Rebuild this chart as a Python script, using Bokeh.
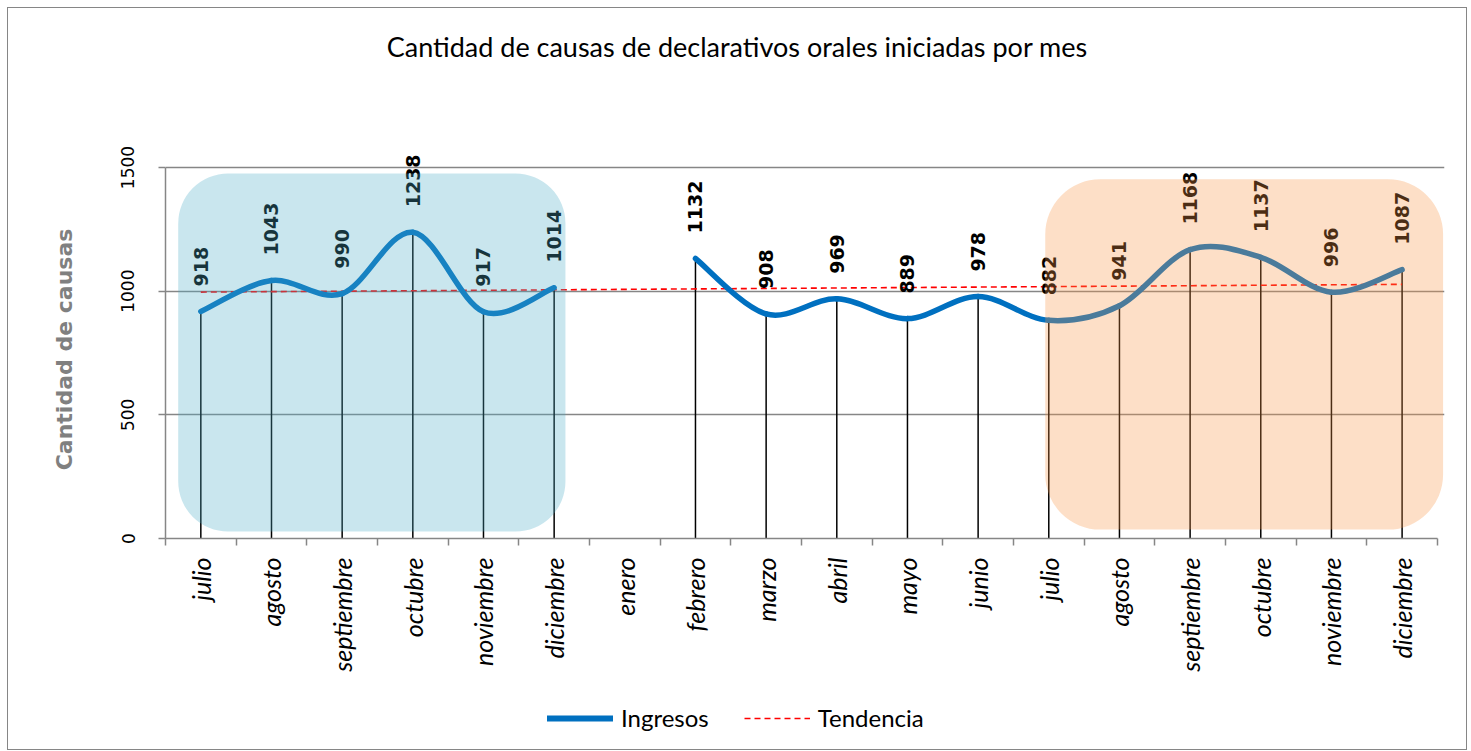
import numpy as np
from bokeh.plotting import figure
from bokeh.layouts import column
from bokeh.models import (FixedTicker, BoxAnnotation, Legend, LegendItem, Div,
                          ColumnDataSource, Range1d)
from bokeh.core.properties import value
from bokeh.embed import file_html
from bokeh.resources import INLINE

# ---------------- data ----------------
months = ["julio", "agosto", "septiembre", "octubre", "noviembre", "diciembre",
          "enero", "febrero", "marzo", "abril", "mayo", "junio",
          "julio", "agosto", "septiembre", "octubre", "noviembre", "diciembre"]
ingresos = [918, 1043, 990, 1238, 917, 1014, None, 1132, 908, 969, 889, 978,
            882, 941, 1168, 1137, 996, 1087]
y_ticks = [0, 500, 1000, 1500]
title_text = "Cantidad de causas de declarativos orales iniciadas por mes"
y_title = "Cantidad de causas"
series_names = ["Ingresos", "Tendencia"]

# ---------------- derived ----------------
idx = list(range(len(months)))
pts = [(i, v) for i, v in zip(idx, ingresos) if v is not None]
px = np.array([p[0] for p in pts], dtype=float)
py = np.array([p[1] for p in pts], dtype=float)

# linear trend (as Excel's linear trendline)
slope, intercept = np.polyfit(px, py, 1)
tx = [px.min(), px.max()]
ty = [intercept + slope * t for t in tx]

# smoothed line segments (Catmull-Rom style bezier, like Excel smoothing)
runs, cur = [], []
for i, v in zip(idx, ingresos):
    if v is None:
        if cur:
            runs.append(cur)
        cur = []
    else:
        cur.append((i, v))
if cur:
    runs.append(cur)
bz = dict(x0=[], y0=[], x1=[], y1=[], cx0=[], cy0=[], cx1=[], cy1=[])
for run in runs:
    n = len(run)
    for k in range(n - 1):
        p0 = run[max(k - 1, 0)]
        p1 = run[k]
        p2 = run[k + 1]
        p3 = run[min(k + 2, n - 1)]
        bz["x0"].append(p1[0]); bz["y0"].append(p1[1])
        bz["x1"].append(p2[0]); bz["y1"].append(p2[1])
        bz["cx0"].append(p1[0] + (p2[0] - p0[0]) / 6.0)
        bz["cy0"].append(p1[1] + (p2[1] - p0[1]) / 6.0)
        bz["cx1"].append(p2[0] - (p3[0] - p1[0]) / 6.0)
        bz["cy1"].append(p2[1] - (p3[1] - p1[1]) / 6.0)

pt_src = ColumnDataSource(dict(x=list(px), y=list(py), zero=[0] * len(px),
                               lab=[str(int(v)) for v in py]))

# ---------------- layout constants ----------------
W = 1458
TITLE_H = 62
MAIN_H = 620
LEG_H = 59
GRAY = "#868686"
X_LO, X_HI = -0.5, len(months) - 0.5
TREND_DASH = "6 4"

# ---------------- title (centered over whole chart) ----------------
title_div = Div(text=title_text, width=W, height=TITLE_H, margin=0,
                styles={"font-family": "Lato", "font-size": "27px", "color": "black",
                        "text-align": "center", "line-height": "78px"})

# ---------------- main figure ----------------
p = figure(width=W, height=MAIN_H, x_range=Range1d(X_LO, X_HI + 0.1),
           y_range=Range1d(0, 1621.3),
           output_backend="svg", toolbar_location=None, margin=0,
           min_border_left=157, min_border_right=22, min_border_top=67, min_border_bottom=152)
p.outline_line_color = None
p.background_fill_color = "white"
p.border_fill_color = "white"
p.xgrid.visible = False
p.ygrid.ticker = FixedTicker(ticks=y_ticks)
p.ygrid.grid_line_color = GRAY
p.ygrid.grid_line_width = 1.5
p.ygrid.bounds = (X_LO, X_HI)

# y axis
yax = p.yaxis[0]
yax.ticker = FixedTicker(ticks=y_ticks)
yax.bounds = (y_ticks[0], y_ticks[-1])
yax.major_label_orientation = "vertical"
yax.axis_line_color = GRAY
yax.axis_line_width = 1.5
yax.major_tick_line_color = GRAY
yax.major_tick_line_width = 1.5
yax.major_tick_out = 7
yax.major_tick_in = 0
yax.minor_tick_line_color = None
yax.major_label_text_font = "DejaVu Sans"
yax.major_label_text_font_size = "17px"
yax.major_label_text_color = "black"
yax.major_label_standoff = 24
# trailing no-break spaces keep the rotated title centred on the 0-1500 span
yax.axis_label = y_title + "\u00a0\u00a0\u00a0"
yax.axis_label_text_font = "DejaVu Sans"
yax.axis_label_text_font_style = "bold"
yax.axis_label_text_font_size = "22px"
yax.axis_label_text_color = "#808080"
yax.axis_label_standoff = 42

# x axis
xax = p.xaxis[0]
xax.ticker = FixedTicker(ticks=idx, minor_ticks=[i - 0.5 for i in range(len(months) + 1)])
xax.bounds = (X_LO, X_HI)
xax.major_label_overrides = {i: m for i, m in enumerate(months)}
xax.major_label_orientation = np.pi / 2
xax.major_tick_line_color = None
xax.major_tick_out = 0
xax.major_tick_in = 0
xax.minor_tick_line_color = GRAY
xax.minor_tick_line_width = 1.5
xax.minor_tick_out = 7
xax.minor_tick_in = 0
xax.axis_line_color = GRAY
xax.axis_line_width = 1.5
xax.major_label_text_font = "Lato"
xax.major_label_text_font_style = "italic"
xax.major_label_text_font_size = "25px"
xax.major_label_text_color = "black"
xax.major_label_standoff = 12

# drop lines
p.segment(x0="x", y0="zero", x1="x", y1="y", source=pt_src, line_color="black", line_width=1.5)

# trend
p.line(tx, ty, line_color="#ff0000", line_width=1.6, line_dash=TREND_DASH)

# smoothed line
p.bezier(source=ColumnDataSource(bz), x0="x0", y0="y0", x1="x1", y1="y1",
         cx0="cx0", cy0="cy0", cx1="cx1", cy1="cy1",
         line_color="#0070c0", line_width=5.5, line_cap="round")

# data labels
p.text(x="x", y="y", text="lab", source=pt_src, angle=np.pi / 2, y_offset=-25,
       text_align="left", text_baseline="middle", text_font=value("DejaVu Sans"),
       text_font_style="bold", text_font_size="19px", text_color="black")

# rounded highlight boxes (overlays)
p.add_layout(BoxAnnotation(left=-0.32, right=5.16, bottom=28, top=1476,
                           fill_color="#4bacc6", fill_alpha=0.3, line_alpha=0,
                           border_radius=50))
p.add_layout(BoxAnnotation(left=11.95, right=17.58, bottom=36, top=1452,
                           fill_color="#f79646", fill_alpha=0.3, line_alpha=0,
                           border_radius=55))

# ---------------- legend strip ----------------
# (its frame is aligned with the main figure's frame by the column layout;
#  the series are plotted outside this strip's ranges, so only the legend shows)
lg = figure(width=W, height=LEG_H, output_backend="svg", toolbar_location=None,
            x_axis_location=None, y_axis_location=None, margin=0,
            min_border_left=0, min_border_right=0, min_border_top=0, min_border_bottom=0,
            x_range=Range1d(0, 1), y_range=Range1d(0, 1))
lg.outline_line_color = None
lg.xgrid.visible = False
lg.ygrid.visible = False
r_ing = lg.line(x=list(px), y=list(py), line_color="#0070c0", line_width=6, line_cap="round")
r_ten = lg.line(x=tx, y=ty, line_color="#ff0000", line_width=1.6, line_dash=TREND_DASH)
legend = Legend(items=[LegendItem(label=series_names[0], renderers=[r_ing]),
                       LegendItem(label=series_names[1], renderers=[r_ten])],
                orientation="horizontal", location=(382, 17),
                border_line_color=None, background_fill_alpha=0,
                glyph_width=66, glyph_height=20, label_text_font="Lato",
                label_text_font_size="24px", label_text_color="black",
                spacing=35, label_standoff=8, margin=0, padding=0)
lg.add_layout(legend, "center")

layout = column(title_div, p, lg, spacing=0, margin=(7, 0, 0, 7),
                styles={"border": "1px solid #868686"})
open("out.html", "w").write(file_html(layout, INLINE))
